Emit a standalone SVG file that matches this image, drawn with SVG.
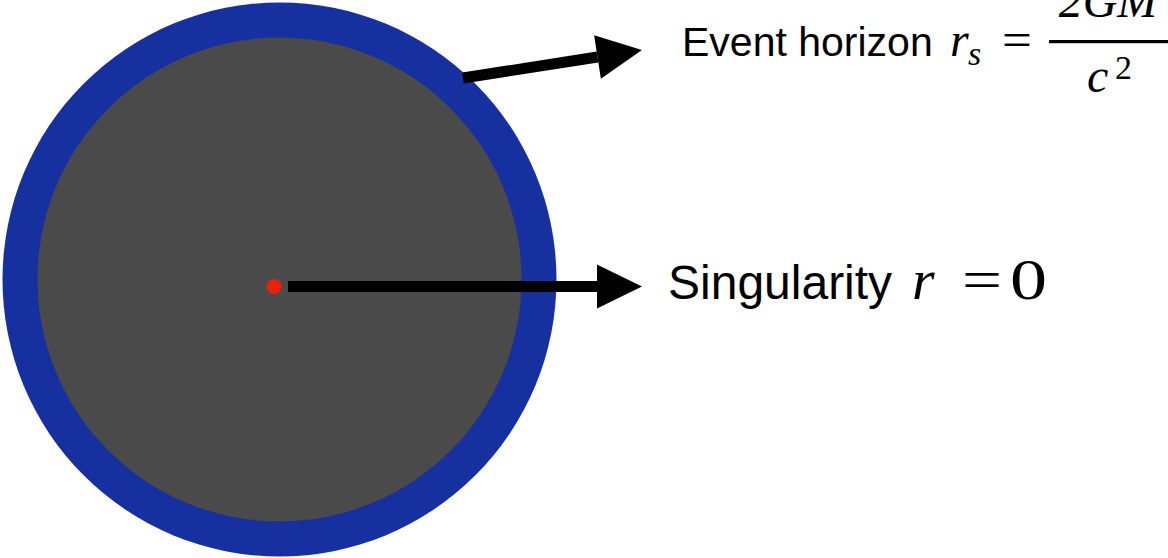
<svg xmlns="http://www.w3.org/2000/svg" width="1168" height="558" viewBox="0 0 1168 558">
  <style>
    .lbl { font-family: "Liberation Sans", Arial, sans-serif; fill: #000; }
    .math { font-family: "Liberation Serif", "Times New Roman", serif; fill: #000; }
    .it { font-style: italic; }
    .conn { stroke: #000; stroke-width: 11; fill: none; }
  </style>
  <defs>
    <marker id="head" markerUnits="userSpaceOnUse" markerWidth="46" markerHeight="46" refX="0" refY="22" orient="auto" overflow="visible">
      <path d="M0,0 L45,22 L0,44 Z" fill="#000"/>
    </marker>
  </defs>
  <g id="blackhole">
    <circle cx="279.5" cy="279.5" r="277" fill="#1730A0"/>
    <circle cx="279.5" cy="279.5" r="242" fill="#4A4A4A"/>
  </g>
  <g id="singularity-point">
    <circle cx="274" cy="286.5" r="7.5" fill="#E8200C"/>
  </g>
  <g id="connectors">
    <line class="conn" x1="288" y1="286.5" x2="597" y2="286.5" marker-end="url(#head)"/>
    <line class="conn" x1="463" y1="78" x2="597.5" y2="57" stroke-width="10" marker-end="url(#head)"/>
  </g>
  <g id="event-horizon-label">
    <text class="lbl" x="682" y="56" font-size="41">Event horizon</text>
    <text class="math it" x="950" y="56" font-size="48">r</text>
    <text class="math it" x="968" y="65" font-size="34">s</text>
    <text class="math" x="1002" y="56" font-size="48" textLength="30" lengthAdjust="spacingAndGlyphs">=</text>
    <text class="math it" x="1108" y="17" font-size="48" text-anchor="middle">2GM</text>
    <rect x="1049" y="40" width="119" height="3.2" fill="#000"/>
    <text class="math it" x="1087" y="92" font-size="48">c</text>
    <text class="math" x="1115" y="79" font-size="34">2</text>
  </g>
  <g id="singularity-label">
    <text class="lbl" x="668" y="299" font-size="48">Singularity</text>
    <text class="math it" x="912" y="299" font-size="58">r</text>
    <text class="math" x="962" y="299" font-size="58" textLength="40" lengthAdjust="spacingAndGlyphs">=</text>
    <text class="math" x="1010" y="299" font-size="58" textLength="37" lengthAdjust="spacingAndGlyphs">0</text>
  </g>
</svg>
